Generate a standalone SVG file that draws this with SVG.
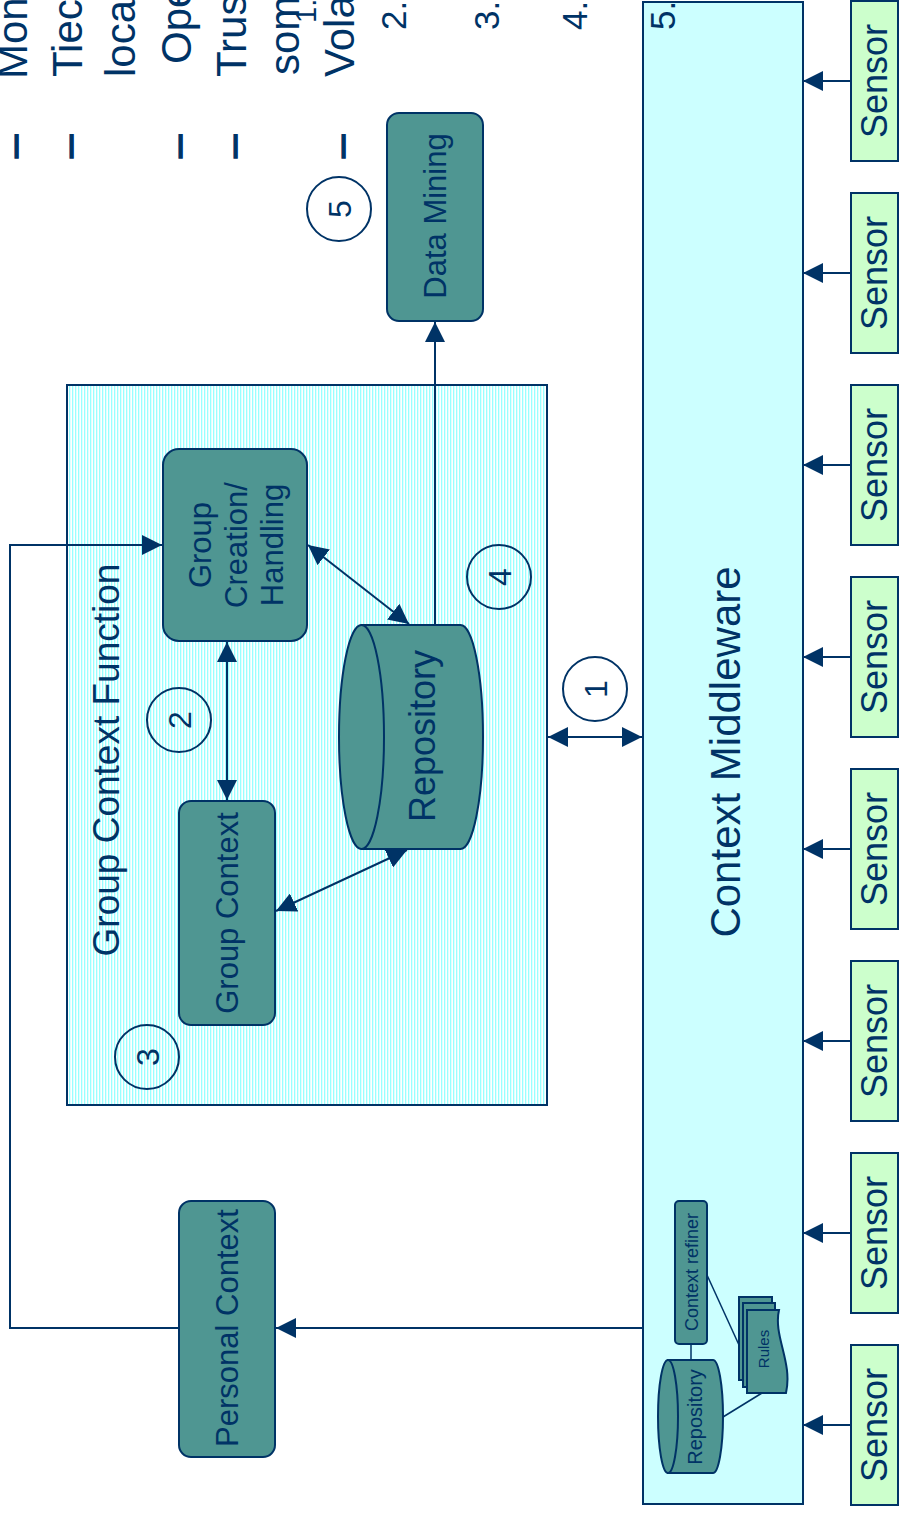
<svg xmlns="http://www.w3.org/2000/svg" width="899" height="1514" viewBox="0 0 899 1514">
  <style>
    text { font-family: "Liberation Sans", Arial, sans-serif; fill: #003366; }
    .mid { text-anchor: middle; }
    .line { stroke: #003366; stroke-width: 2; fill: none; }
    .thin { stroke: #003366; stroke-width: 1.5; fill: none; }
    .proc { fill: #4F9692; stroke: #003366; stroke-width: 2; }
    .sensor { fill: #CCFFCC; stroke: #003366; stroke-width: 2; }
    .num { fill: none; stroke: #003366; stroke-width: 2; }
    .bullet { font-size: 42px; }
    .dash { font-size: 42px; stroke: #003366; stroke-width: 1.5; }
    .step { font-size: 35px; }
  </style>
  <defs>
    <marker id="ah" viewBox="0 0 20 20" refX="20" refY="10" markerWidth="20" markerHeight="20" markerUnits="userSpaceOnUse" orient="auto-start-reverse">
      <path d="M0,0 L20,10 L0,20 Z" fill="#003366"/>
    </marker>
    <pattern id="stripes" width="3" height="10" patternUnits="userSpaceOnUse">
      <rect width="3" height="10" fill="#ffffff"/>
      <rect width="1.3" height="10" fill="#99FFFF"/>
    </pattern>
  </defs>

  <rect width="899" height="1514" fill="#ffffff"/>

  <!-- Context middleware container -->
  <g id="middleware">
    <rect x="643" y="2" width="160" height="1502" fill="#CCFFFF" stroke="#003366" stroke-width="2"/>
    <text class="mid" font-size="42" transform="translate(740,752) rotate(-90)">Context Middleware</text>
  </g>

  <!-- overflowing bullet list, cut at the top edge -->
  <g id="notes">
    <text class="dash" transform="translate(27,158) rotate(-90)">–</text>
    <text class="dash" transform="translate(82,158) rotate(-90)">–</text>
    <text class="dash" transform="translate(191,158) rotate(-90)">–</text>
    <text class="dash" transform="translate(246,158) rotate(-90)">–</text>
    <text class="dash" transform="translate(354,158) rotate(-90)">–</text>
    <text class="bullet" transform="translate(27,79) rotate(-90)">Mon</text>
    <text class="bullet" transform="translate(82,77) rotate(-90)">Tiec</text>
    <text class="bullet" transform="translate(135,77) rotate(-90)">loca</text>
    <text class="bullet" transform="translate(191,64) rotate(-90)">Ope</text>
    <text class="bullet" transform="translate(246,77) rotate(-90)">Trus</text>
    <text class="bullet" transform="translate(299,75) rotate(-90)">som</text>
    <text font-size="29" transform="translate(316,23) rotate(-90)">1.</text>
    <text class="bullet" transform="translate(354,77) rotate(-90)">Vola</text>
    <text class="step" transform="translate(406,30) rotate(-90)">2.</text>
    <text class="step" transform="translate(499,30) rotate(-90)">3.</text>
    <text class="step" transform="translate(587,30) rotate(-90)">4.</text>
    <text class="step" transform="translate(675,30) rotate(-90)">5.</text>
  </g>

  <!-- Sensors -->
  <g id="sensor-1"><rect class="sensor" x="851" y="1" width="47" height="160"/><text class="mid" font-size="36" transform="translate(887,81) rotate(-90)">Sensor</text></g>
  <g id="sensor-2"><rect class="sensor" x="851" y="193" width="47" height="160"/><text class="mid" font-size="36" transform="translate(887,273) rotate(-90)">Sensor</text></g>
  <g id="sensor-3"><rect class="sensor" x="851" y="385" width="47" height="160"/><text class="mid" font-size="36" transform="translate(887,465) rotate(-90)">Sensor</text></g>
  <g id="sensor-4"><rect class="sensor" x="851" y="577" width="47" height="160"/><text class="mid" font-size="36" transform="translate(887,657) rotate(-90)">Sensor</text></g>
  <g id="sensor-5"><rect class="sensor" x="851" y="769" width="47" height="160"/><text class="mid" font-size="36" transform="translate(887,849) rotate(-90)">Sensor</text></g>
  <g id="sensor-6"><rect class="sensor" x="851" y="961" width="47" height="160"/><text class="mid" font-size="36" transform="translate(887,1041) rotate(-90)">Sensor</text></g>
  <g id="sensor-7"><rect class="sensor" x="851" y="1153" width="47" height="160"/><text class="mid" font-size="36" transform="translate(887,1233) rotate(-90)">Sensor</text></g>
  <g id="sensor-8"><rect class="sensor" x="851" y="1345" width="47" height="160"/><text class="mid" font-size="36" transform="translate(887,1425) rotate(-90)">Sensor</text></g>

  <!-- Group context function container -->
  <g id="group-context-function">
    <rect x="67" y="385" width="480" height="720" fill="url(#stripes)" stroke="#003366" stroke-width="2"/>
    <text class="mid" font-size="37" transform="translate(119,760) rotate(-90)">Group Context Function</text>
  </g>

  <g id="group-creation">
    <rect class="proc" x="163" y="449" width="144" height="192" rx="16"/>
    <text class="mid" font-size="31" transform="translate(211,545) rotate(-90)">Group</text>
    <text class="mid" font-size="31" transform="translate(247,545) rotate(-90)">Creation/</text>
    <text class="mid" font-size="31" transform="translate(283,545) rotate(-90)">Handling</text>
  </g>

  <g id="group-context">
    <rect class="proc" x="179" y="801" width="96" height="224" rx="12"/>
    <text class="mid" font-size="31" transform="translate(238,913) rotate(-90)">Group Context</text>
  </g>

  <g id="repository">
    <path class="proc" d="M361.5,625 L460.5,625 A22.5,112 0 0 1 460.5,849 L361.5,849 Z"/>
    <ellipse class="proc" cx="361.5" cy="737" rx="22.5" ry="112"/>
    <text class="mid" font-size="36" transform="translate(435,736) rotate(-90)">Repository</text>
  </g>

  <g id="data-mining">
    <rect class="proc" x="387" y="113" width="96" height="208" rx="12"/>
    <text class="mid" font-size="31" transform="translate(446,216) rotate(-90)">Data Mining</text>
  </g>

  <g id="personal-context">
    <rect class="proc" x="179" y="1201" width="96" height="256" rx="12"/>
    <text class="mid" font-size="31" transform="translate(238,1328) rotate(-90)">Personal Context</text>
  </g>

  <!-- middleware internals -->
  <g id="context-refiner">
    <rect class="proc" x="675" y="1201" width="32" height="143" rx="4" stroke-width="1.5"/>
    <text class="mid" font-size="18" transform="translate(698,1272) rotate(-90)">Context refiner</text>
  </g>
  <g id="mw-repository">
    <path class="proc" stroke-width="1.5" d="M668,1360 L713,1360 A10,56.5 0 0 1 713,1473 L668,1473 Z"/>
    <ellipse class="proc" stroke-width="1.5" cx="668" cy="1416.5" rx="10" ry="56.5"/>
    <text class="mid" font-size="20" transform="translate(702,1417) rotate(-90)">Repository</text>
  </g>
  <g id="rules">
    <rect class="proc" stroke-width="1.5" x="739" y="1297" width="33" height="83"/>
    <rect class="proc" stroke-width="1.5" x="743" y="1303" width="32" height="84"/>
    <path class="proc" stroke-width="1.5" d="M747,1310 L779,1310 C773,1336 793,1362 786,1393 L747,1393 Z"/>
    <text class="mid" font-size="15" transform="translate(769,1349) rotate(-90)">Rules</text>
  </g>

  <!-- step markers -->
  <g id="step-1"><circle class="num" cx="595" cy="689" r="32"/><text class="mid" font-size="32" transform="translate(606.5,689) rotate(-90)">1</text></g>
  <g id="step-2"><circle class="num" cx="179" cy="720" r="32"/><text class="mid" font-size="32" transform="translate(190.5,720) rotate(-90)">2</text></g>
  <g id="step-3"><circle class="num" cx="147" cy="1057" r="32"/><text class="mid" font-size="32" transform="translate(158.5,1057) rotate(-90)">3</text></g>
  <g id="step-4"><circle class="num" cx="499" cy="577" r="32"/><text class="mid" font-size="32" transform="translate(510.5,577) rotate(-90)">4</text></g>
  <g id="step-5"><circle class="num" cx="339" cy="209" r="32"/><text class="mid" font-size="32" transform="translate(350.5,209) rotate(-90)">5</text></g>

  <!-- connectors -->
  <g id="connectors">
    <line class="line" x1="851" y1="81" x2="803" y2="81" marker-end="url(#ah)"/>
    <line class="line" x1="851" y1="273" x2="803" y2="273" marker-end="url(#ah)"/>
    <line class="line" x1="851" y1="465" x2="803" y2="465" marker-end="url(#ah)"/>
    <line class="line" x1="851" y1="657" x2="803" y2="657" marker-end="url(#ah)"/>
    <line class="line" x1="851" y1="849" x2="803" y2="849" marker-end="url(#ah)"/>
    <line class="line" x1="851" y1="1041" x2="803" y2="1041" marker-end="url(#ah)"/>
    <line class="line" x1="851" y1="1233" x2="803" y2="1233" marker-end="url(#ah)"/>
    <line class="line" x1="851" y1="1425" x2="803" y2="1425" marker-end="url(#ah)"/>

    <line class="line" x1="548" y1="737" x2="642" y2="737" marker-start="url(#ah)" marker-end="url(#ah)"/>
    <line class="line" x1="227" y1="642" x2="227" y2="800" marker-start="url(#ah)" marker-end="url(#ah)"/>
    <line class="line" x1="308" y1="545" x2="409" y2="624" marker-start="url(#ah)" marker-end="url(#ah)"/>
    <line class="line" x1="407" y1="850" x2="276" y2="911" marker-start="url(#ah)" marker-end="url(#ah)"/>
    <line class="line" x1="435" y1="625" x2="435" y2="322" marker-end="url(#ah)"/>

    <line class="line" x1="643" y1="1328" x2="276" y2="1328" marker-end="url(#ah)"/>
    <polyline class="line" points="179,1328 10,1328 10,545 162,545" marker-end="url(#ah)"/>

    <line class="thin" x1="691" y1="1344" x2="691" y2="1360"/>
    <line class="thin" x1="707" y1="1275" x2="739" y2="1345"/>
    <line class="thin" x1="723" y1="1417" x2="762" y2="1393"/>
  </g>
</svg>
